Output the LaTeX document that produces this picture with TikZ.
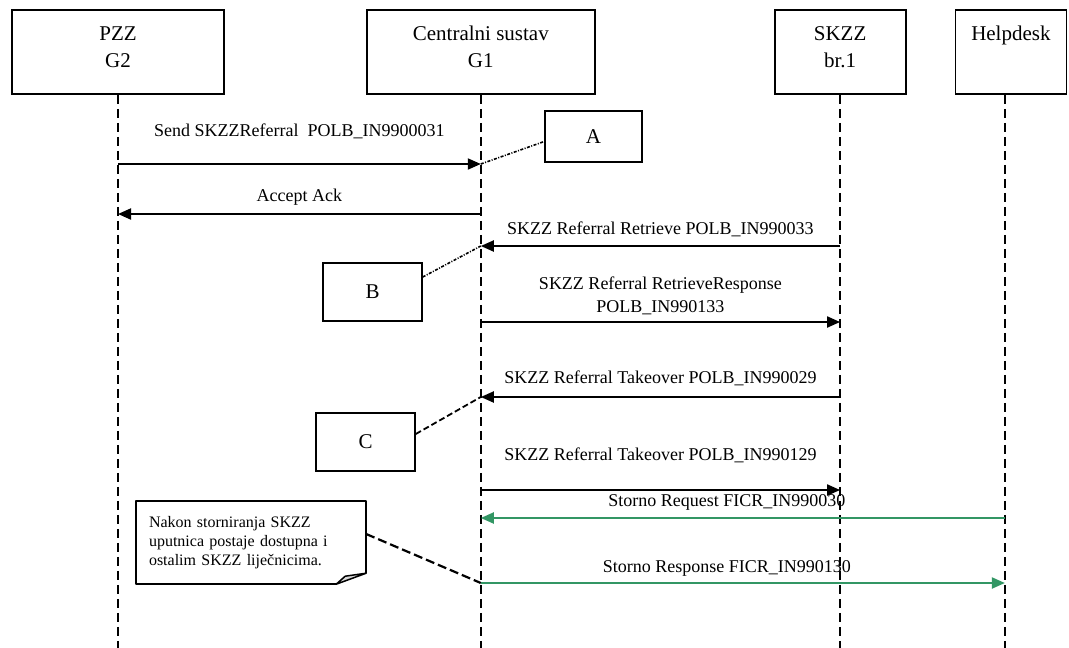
\documentclass[tikz,border=0pt]{standalone}
\usepackage{fontspec}
\setmainfont{Liberation Serif}
\usepackage{xcolor}
\usepackage{tikz}
\usetikzlibrary{arrows.meta,positioning}

\definecolor{stornogreen}{RGB}{50,150,100}

\begin{document}
\begin{tikzpicture}[
        x=1pt, y=-1pt,
        actor/.style={rectangle, draw, line width=1.8pt, minimum height=84pt, align=center, inner sep=0pt, text depth=10pt, font=\fontsize{21}{27}\selectfont},
        lifeline/.style={line width=2.5pt, dash pattern=on 9pt off 5pt},
        msg/.style={line width=2pt, -{Triangle[length=13pt,width=11pt]}},
        lbl/.style={align=center, inner sep=0pt, font=\fontsize{18}{23}\selectfont},
        tagbox/.style={rectangle, draw, line width=1.5pt, font=\fontsize{21}{25}\selectfont},
        taglink/.style={line width=1.6pt, dash pattern=on 3pt off 1.5pt on 1pt off 1.5pt},
        note/.style={align=left, text width=204pt, minimum height=83pt, inner xsep=13pt, font=\fontsize{16}{19}\selectfont},
        notebox/.style={line width=1.5pt, line join=round}
    ]
        \useasboundingbox (0,0) rectangle (1069,648);

        % participants
        \node[actor, minimum width=212pt] (pzz) at (118,52) {PZZ\\G2};
        \node[actor, minimum width=228pt, right=141pt of pzz] (g1) {Centralni sustav\\G1};
        \node[actor, minimum width=131pt, right=178pt of g1] (skzz) {SKZZ\\br.1};
        \node[actor, minimum width=111pt, right=48pt of skzz] (hd) {Helpdesk\\\mbox{}};
        \coordinate (hdline) at ([xshift=-6pt]hd.south);

        \draw[lifeline] (pzz.south) -- (pzz.south |- 0,648);
        \draw[lifeline] (g1.south) -- (g1.south |- 0,648);
        \draw[lifeline] (skzz.south) -- (skzz.south |- 0,648);
        \draw[lifeline] (hdline) -- (hdline |- 0,648);

        % messages
        \draw[msg] (pzz |- 0,164) -- (g1 |- 0,164) node[lbl, midway, yshift=33pt] {Send SKZZReferral\ \ POLB\_IN9900031};
        \draw[msg] (g1 |- 0,214) -- (pzz |- 0,214) node[lbl, midway, yshift=17pt] {Accept Ack};
        \draw[msg] (skzz |- 0,246) -- (g1 |- 0,246) node[lbl, midway, yshift=17pt] {SKZZ Referral Retrieve POLB\_IN990033};
        \draw[msg] (g1 |- 0,322) -- (skzz |- 0,322) node[lbl, midway, yshift=26pt] {SKZZ Referral RetrieveResponse\\POLB\_IN990133};
        \draw[msg] (skzz |- 0,397) -- (g1 |- 0,397) node[lbl, midway, yshift=19pt] {SKZZ Referral Takeover POLB\_IN990029};
        \draw[msg] (g1 |- 0,490) -- (skzz |- 0,490) node[lbl, midway, yshift=35pt] {SKZZ Referral Takeover POLB\_IN990129};
        \draw[msg, stornogreen] (hdline |- 0,518) -- (g1 |- 0,518) node[lbl, midway, xshift=-16pt, yshift=16pt, text=black] {Storno Request FICR\_IN990030};
        \draw[msg, stornogreen] (g1 |- 0,583) -- (hdline |- 0,583) node[lbl, midway, xshift=-16pt, yshift=15pt, text=black] {Storno Response FICR\_IN990130};

        % markers
        \node[tagbox, minimum width=97pt, minimum height=51pt] (tagA) at (593.5,136.5) {A};
        \node[tagbox, minimum width=99pt, minimum height=58pt] (tagB) at (372.5,292) {B};
        \node[tagbox, minimum width=99pt, minimum height=58pt] (tagC) at (365.5,442) {C};

        \draw[taglink] (g1 |- 0,164) -- ([yshift=-5pt]tagA.west);
        \draw[taglink] ([yshift=15pt]tagB.east) -- (g1 |- 0,246);
        \draw[line width=1.8pt, dash pattern=on 6pt off 3pt] ([yshift=8pt]tagC.east) -- (g1 |- 0,397);

        % note
        \node[note] (note) at (251,542.5) {Nakon storniranja SKZZ\\uputnica postaje dostupna i\\ostalim SKZZ liječnicima.};
        \draw[notebox] ([xshift=-30pt]note.south east) -- (note.south west) -- (note.north west) -- (note.north east) -- ([yshift=11pt]note.south east);
        \filldraw[notebox, fill=gray!30] ([xshift=-30pt]note.south east) -- ([xshift=-21pt,yshift=8pt]note.south east) -- ([yshift=11pt]note.south east) -- cycle;
        \draw[line width=2.2pt, dash pattern=on 9pt off 4pt] ([yshift=8.5pt]note.east) -- (g1 |- 0,583);
    \end{tikzpicture}
\end{document}
